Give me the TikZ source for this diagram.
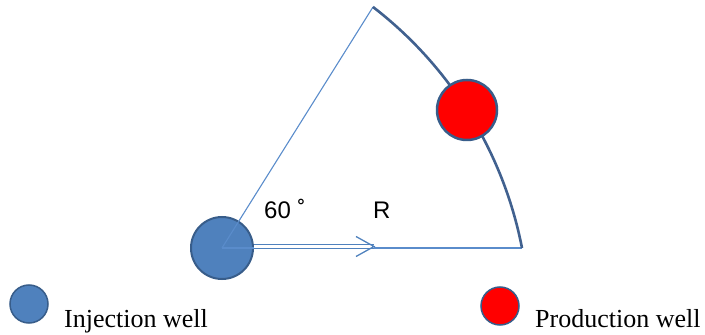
\documentclass[tikz,border=0pt]{standalone}
\usepackage{fontspec}
\setmainfont{Liberation Serif}
\newfontfamily\labelfont{Liberation Sans}
\definecolor{wellblue}{HTML}{4F81BD}
\definecolor{lineblue}{HTML}{5A8CCB}
\definecolor{edgeblue}{HTML}{385D8A}
\definecolor{arcblue}{HTML}{41618F}
\tikzset{
  thinline/.style={draw=lineblue, line width=1.1pt},
  injwell/.style={circle, fill=wellblue, draw=edgeblue, line width=2pt, inner sep=0pt},
  prodwell/.style={circle, fill=red, draw=edgeblue, line width=2.5pt, inner sep=0pt},
  legtext/.style={anchor=base west, inner sep=0pt, font=\fontsize{26}{30}\selectfont},
  anglabel/.style={anchor=base west, inner sep=0pt, font=\labelfont\fontsize{24}{28}\selectfont}
}
\begin{document}
\begin{tikzpicture}[x=1pt,y=1pt]
\useasboundingbox (0,0) rectangle (705,335);
% sector corners
\coordinate (O) at (222,87);
\coordinate (A) at (373,328);
\coordinate (B) at (522,87);
\coordinate (Rend) at (374,88.5);
% injection well
\node[injwell, minimum size=62pt] (inj) at (O) {};
% sector sides
\draw[thinline] (O) -- (A);
\draw[thinline] (O) -- (B);
% arc
\draw[draw=arcblue, line width=2.6pt] (B) arc[start angle=11.06, end angle=52.4, radius=401.5];
% production well
\node[prodwell, minimum size=60pt] (prod) at (467,225) {};
% double arrow R
\coordinate (Rstart) at (inj.east |- Rend);
\draw[draw=wellblue, line width=1.1pt, double=white, double distance=2.2pt] (Rstart) -- (Rend);
\draw[draw=wellblue, line width=1.3pt, line join=miter] ([shift={(-18,10)}]Rend) -- (Rend) -- ([shift={(-18,-10)}]Rend);
% labels
\node[anglabel] (ang) at (264,116) {60 ˚};
\node[anglabel] (rlab) at (373,116) {R};
% legend
\node[injwell, minimum size=38pt, line width=1.5pt] (leginj) at (29,31) {};
\node[legtext] (injtext) at (64,7) {Injection well};
\node[prodwell, minimum size=38pt, line width=1.5pt] (legprod) at (500,29) {};
\node[legtext] (prodtext) at (535,7) {Production well};
\end{tikzpicture}
\end{document}
